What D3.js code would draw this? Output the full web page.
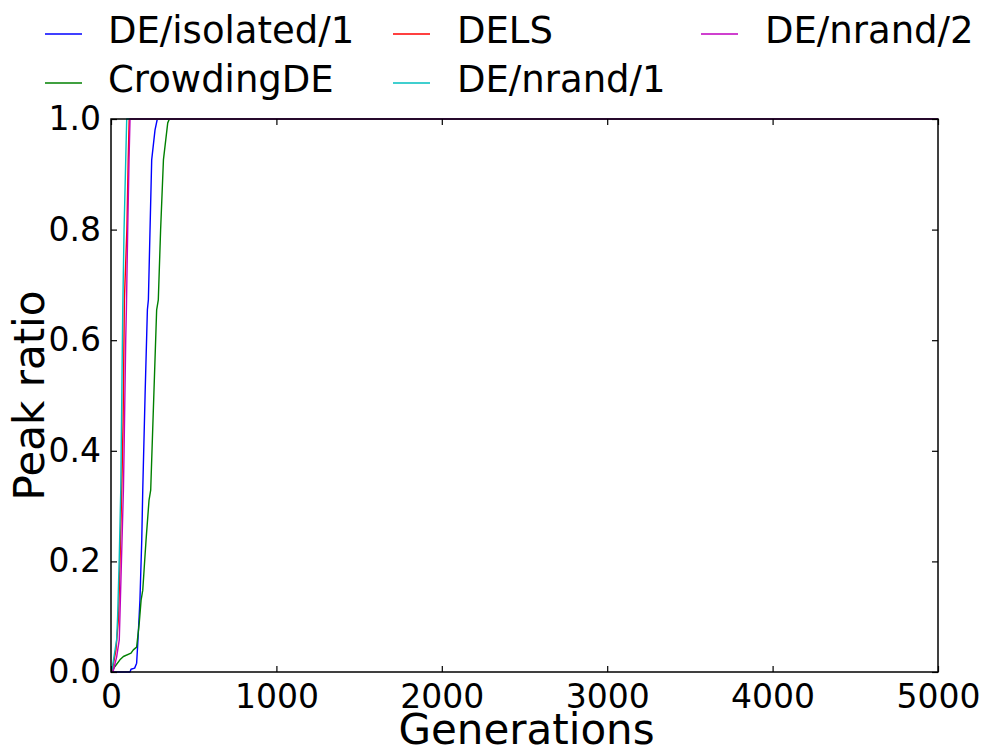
<!DOCTYPE html>
<html>
<head>
<meta charset="utf-8">
<script src="https://cdn.jsdelivr.net/npm/d3@7"></script>
<style>
  html, body { margin: 0; padding: 0; background: #fff; }
  svg { display: block; font-family: "DejaVu Sans", sans-serif; }
</style>
</head>
<body>
<svg id="chart" width="988" height="751"></svg>
<script>
// Peak ratio reached by each algorithm over the generations.
const seriesNames = ["DE/isolated/1", "CrowdingDE", "DELS", "DE/nrand/1", "DE/nrand/2"];
const seriesColors = ["#0000ff", "#008000", "#ff0000", "#00bfbf", "#bf00bf"];

// [generation, peak ratio] pairs per series
const isolatedGen   = [0, 115, 121, 143, 155, 163, 175, 186, 192, 206, 220, 226, 236, 246, 266, 280, 5000];
const isolatedRatio = [0, 0, 0.005, 0.007, 0.016, 0.058, 0.13, 0.239, 0.329, 0.50, 0.655, 0.673, 0.80, 0.926, 0.98, 1.0, 1.0];

const crowdingGen   = [0, 4, 24, 54, 75, 121, 135, 155, 171, 182, 192, 196, 204, 212, 230, 240, 276, 286, 300, 317, 343, 353, 5000];
const crowdingRatio = [0, 0, 0.01, 0.022, 0.028, 0.034, 0.04, 0.045, 0.089, 0.13, 0.148, 0.166, 0.203, 0.239, 0.311, 0.329, 0.655, 0.673, 0.80, 0.926, 0.993, 1.0, 1.0];

const delsGen   = [0, 6, 30, 46, 65, 73, 81, 96, 104, 110, 5000];
const delsRatio = [0, 0, 0.04, 0.10, 0.33, 0.45, 0.673, 0.80, 0.926, 1.0, 1.0];

const nrand1Gen   = [0, 4, 12, 34, 40, 50, 59, 71, 79, 89, 95, 5000];
const nrand1Ratio = [0, 0, 0.016, 0.058, 0.10, 0.208, 0.33, 0.655, 0.80, 0.926, 1.0, 1.0];

const nrand2Gen   = [0, 12, 34, 50, 75, 79, 89, 93, 101, 109, 115, 5000];
const nrand2Ratio = [0, 0, 0.027, 0.058, 0.329, 0.40, 0.60, 0.655, 0.80, 0.926, 1.0, 1.0];

const seriesGens   = [isolatedGen, crowdingGen, delsGen, nrand1Gen, nrand2Gen];
const seriesRatios = [isolatedRatio, crowdingRatio, delsRatio, nrand1Ratio, nrand2Ratio];

const xTicks = [0, 1000, 2000, 3000, 4000, 5000];
const yTicks = [0, 0.2, 0.4, 0.6, 0.8, 1.0];
const xLabel = "Generations";
const yLabel = "Peak ratio";

const svg = d3.select("#chart");
const plot = { left: 111, right: 938, top: 119, bottom: 672 };

const x = d3.scaleLinear().domain([0, 5000]).range([plot.left, plot.right]);
const y = d3.scaleLinear().domain([0, 1]).range([plot.bottom, plot.top]);

// data lines
const line = d3.line().x(d => x(d[0])).y(d => y(d[1]));
seriesNames.forEach((name, i) => {
  const pts = seriesGens[i].map((g, k) => [g, seriesRatios[i][k]]);
  svg.append("path")
    .datum(pts)
    .attr("d", line)
    .attr("fill", "none")
    .attr("stroke", seriesColors[i])
    .attr("stroke-width", 1.4)
    .attr("stroke-linejoin", "round");
});

// inward ticks on all four sides, with labels on bottom and left
const tickLen = 6;
const axisFont = 33;

const bottomAxis = d3.axisBottom(x).tickValues(xTicks).tickFormat(d3.format("d"))
  .tickSizeInner(-tickLen).tickSizeOuter(0).tickPadding(12);
const topAxis = d3.axisTop(x).tickValues(xTicks).tickFormat("")
  .tickSizeInner(-tickLen).tickSizeOuter(0);
const leftAxis = d3.axisLeft(y).tickValues(yTicks).tickFormat(d3.format(".1f"))
  .tickSizeInner(-tickLen).tickSizeOuter(0).tickPadding(10);
const rightAxis = d3.axisRight(y).tickValues(yTicks).tickFormat("")
  .tickSizeInner(-tickLen).tickSizeOuter(0);

function styleAxis(g) {
  g.select(".domain").remove();
  g.selectAll(".tick line").attr("stroke", "#000").attr("stroke-width", 1.2);
  g.selectAll(".tick text")
    .attr("fill", "#000")
    .style("font-family", "'DejaVu Sans', sans-serif")
    .style("font-size", axisFont + "px");
}

svg.append("g").attr("transform", `translate(0,${plot.bottom})`).call(bottomAxis).call(styleAxis)
  .selectAll(".tick text").attr("dy", "0.72em");
svg.append("g").attr("transform", `translate(0,${plot.top})`).call(topAxis).call(styleAxis);
svg.append("g").attr("transform", `translate(${plot.left},0)`).call(leftAxis).call(styleAxis);
svg.append("g").attr("transform", `translate(${plot.right},0)`).call(rightAxis).call(styleAxis);

// plot frame
svg.append("rect")
  .attr("x", plot.left).attr("y", plot.top)
  .attr("width", plot.right - plot.left).attr("height", plot.bottom - plot.top)
  .attr("fill", "none").attr("stroke", "#000").attr("stroke-width", 1.5);

// axis titles
svg.append("text")
  .attr("x", (plot.left + plot.right) / 2 + 2).attr("y", 744)
  .attr("text-anchor", "middle")
  .style("font-size", "42px")
  .text(xLabel);

svg.append("text")
  .attr("transform", `translate(44,${(plot.top + plot.bottom) / 2}) rotate(-90)`)
  .attr("text-anchor", "middle")
  .style("font-size", "42px")
  .text(yLabel);

// legend: three columns, filled column by column
const legendCols = [{ hx: 45, tx: 108 }, { hx: 393, tx: 457 }, { hx: 701, tx: 765 }];
const legendRows = [{ ly: 34, by: 43 }, { ly: 83, by: 92 }];
const legend = svg.append("g");
seriesNames.forEach((name, i) => {
  const col = legendCols[Math.floor(i / 2)];
  const row = legendRows[i % 2];
  legend.append("line")
    .attr("x1", col.hx).attr("x2", col.hx + 37)
    .attr("y1", row.ly).attr("y2", row.ly)
    .attr("stroke", seriesColors[i]).attr("stroke-width", 1.4);
  legend.append("text")
    .attr("x", col.tx).attr("y", row.by)
    .style("font-size", "37px")
    .text(name);
});
</script>
</body>
</html>
